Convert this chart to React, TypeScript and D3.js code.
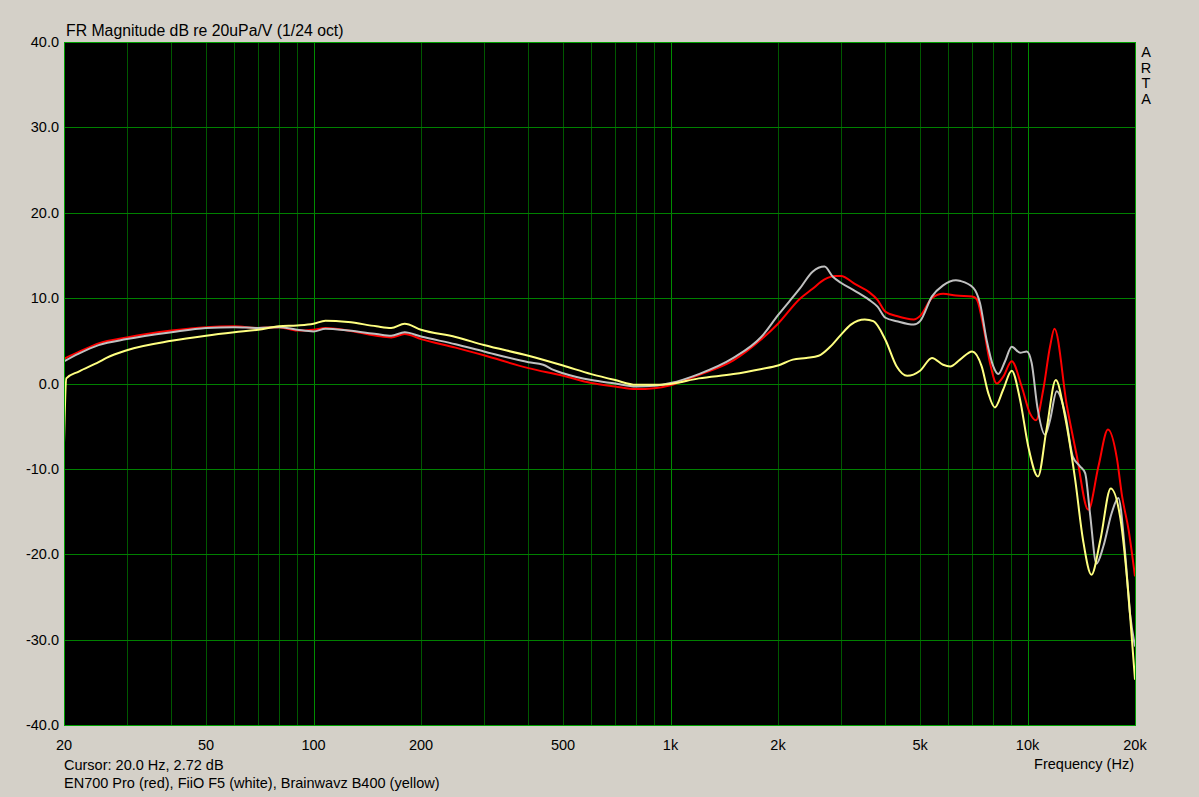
import React from "react";
import * as d3 from "d3";

const W = 1199;
const H = 797;

const yTicks = [40, 30, 20, 10, 0, -10, -20, -30, -40];
const xTickLabels: [number, string][] = [
  [20, "20"], [50, "50"], [100, "100"], [200, "200"], [500, "500"],
  [1000, "1k"], [2000, "2k"], [5000, "5k"], [10000, "10k"], [20000, "20k"],
];
const gridFreqs = [
  20, 30, 40, 50, 60, 70, 80, 90, 100, 200, 300, 400, 500, 600, 700, 800, 900,
  1000, 2000, 3000, 4000, 5000, 6000, 7000, 8000, 9000, 10000, 20000,
];
const majorFreqs = [100, 1000, 10000];

// EN700 Pro (red)
const redFreq = [20, 22, 25, 30, 40, 50, 60, 70, 80, 90, 100, 108, 125, 150, 165, 180, 200, 250, 300, 400, 500, 600, 700, 800, 900, 1000, 1200, 1500, 1800, 2000, 2300, 2500, 2700, 2900, 3000, 3300, 3600, 3800, 4000, 4300, 4800, 5000, 5400, 5800, 6300, 7000, 7200, 7520, 7850, 8200, 8550, 9030, 9630, 10160, 10560, 11070, 11560, 11900, 12900, 13700, 14800, 15800, 16800, 17800, 18400, 19200, 20000];
const redDb = [2.9, 3.7, 4.7, 5.4, 6.2, 6.6, 6.7, 6.5, 6.6, 6.2, 6.3, 6.5, 6.2, 5.6, 5.4, 5.8, 5.2, 4.2, 3.3, 1.8, 0.9, 0.05, -0.35, -0.65, -0.55, -0.2, 1.0, 2.7, 5.2, 7.0, 9.9, 11.1, 12.2, 12.6, 12.6, 11.6, 10.7, 9.8, 8.4, 7.9, 7.5, 7.9, 10.0, 10.5, 10.3, 10.2, 9.9, 6.7, 2.4, 0.0, 0.8, 2.6, -0.35, -3.5, -4.3, -0.7, 4.3, 6.4, -2.7, -8.2, -14.8, -9.7, -5.4, -8.8, -13.2, -17.2, -22.6];

// FiiO F5 (white)
const grayFreq = [20, 22, 25, 30, 40, 50, 60, 70, 80, 90, 100, 108, 125, 150, 165, 180, 200, 250, 300, 400, 440, 470, 500, 600, 700, 800, 900, 1000, 1200, 1500, 1800, 2000, 2300, 2500, 2700, 2850, 3000, 3300, 3600, 3800, 4000, 4300, 4800, 5000, 5400, 5800, 6300, 6500, 7050, 7360, 7680, 8020, 8280, 8650, 9030, 9530, 9950, 10270, 10650, 11200, 11560, 12070, 12740, 13400, 14030, 14500, 14960, 15600, 16300, 17200, 17960, 18750, 19360, 20000];
const grayDb = [2.6, 3.5, 4.5, 5.2, 6.0, 6.5, 6.6, 6.5, 6.6, 6.3, 6.1, 6.4, 6.2, 5.8, 5.6, 6.0, 5.5, 4.6, 3.75, 2.5, 2.2, 1.6, 1.2, 0.4, 0.0, -0.35, -0.27, 0.05, 1.1, 3.0, 5.5, 8.0, 11.1, 13.1, 13.7, 12.5, 11.8, 10.8, 9.8, 9.0, 7.7, 7.3, 6.9, 7.3, 10.2, 11.5, 12.1, 12.0, 11.2, 9.4, 5.1, 2.0, 1.1, 2.6, 4.3, 3.6, 3.75, 2.4, -2.7, -6.0, -4.3, -0.9, -3.5, -8.6, -9.7, -10.5, -15.2, -21.1, -19.1, -15.2, -13.4, -19.7, -26.9, -30.8];

// Brainwavz B400 (yellow)
const yellowFreq = [20, 20.3, 22, 25, 26.3, 30, 40, 50, 60, 70, 80, 90, 100, 108, 125, 150, 165, 180, 200, 250, 300, 400, 500, 600, 700, 800, 900, 1000, 1200, 1500, 1800, 2000, 2200, 2400, 2600, 2800, 3000, 3200, 3500, 3700, 4000, 4300, 4600, 5000, 5400, 5800, 6070, 6470, 7000, 7440, 7760, 8100, 8550, 9030, 9530, 10050, 10700, 11300, 12000, 12740, 13600, 14300, 15100, 16000, 17100, 18200, 19200, 20000];
const yellowDb = [-7.0, 0.6, 1.4, 2.5, 3.0, 3.9, 5.0, 5.6, 6.0, 6.3, 6.7, 6.8, 7.0, 7.35, 7.2, 6.7, 6.5, 7.0, 6.3, 5.45, 4.5, 3.25, 2.1, 1.1, 0.4, -0.15, -0.15, -0.05, 0.6, 1.1, 1.7, 2.1, 2.8, 3.0, 3.25, 4.3, 5.7, 6.9, 7.5, 7.3, 5.1, 2.0, 0.9, 1.5, 3.0, 2.2, 2.0, 2.8, 3.75, 2.0, -1.1, -2.8, -0.7, 1.5, -1.9, -7.4, -10.9, -5.4, 0.4, -3.9, -11.3, -18.3, -22.4, -18.3, -12.3, -15.8, -25.0, -34.7];

const series = [
  { name: "EN700 Pro", freq: redFreq, db: redDb, color: "#ff0000" },
  { name: "FiiO F5", freq: grayFreq, db: grayDb, color: "#c0c0c0" },
  { name: "Brainwavz B400", freq: yellowFreq, db: yellowDb, color: "#ffff80" },
];

const FONT = "'Liberation Sans', Arial, sans-serif";
const FS = 14.5;

export default function App() {
  const left = 64, right = 1135, top = 42, bottom = 725;
  const x = d3.scaleLog().domain([20, 20000]).range([left, right]);
  const y = d3.scaleLinear().domain([-40, 40]).range([bottom, top]);
  const px = (v: number) => Math.round(v) + 0.5;

  const line = d3
    .line<[number, number]>()
    .x((d) => x(d[0]))
    .y((d) => y(d[1]))
    .curve(d3.curveMonotoneX);

  return (
    <svg
      width={W}
      height={H}
      style={{ position: "absolute", left: 0, top: 0, display: "block" }}
      fontFamily={FONT}
    >
      <rect x={0} y={0} width={W} height={H} fill="#d4d0c8" />
      <rect x={left} y={top} width={right - left} height={bottom - top} fill="#000" />
      <defs>
        <clipPath id="plotClip">
          <rect x={left} y={top} width={right - left + 1} height={bottom - top + 1} />
        </clipPath>
      </defs>
      {gridFreqs.map((f) => (
        <line
          key={"v" + f}
          x1={px(x(f))}
          x2={px(x(f))}
          y1={top}
          y2={bottom}
          stroke={majorFreqs.includes(f) ? "#008c00" : "#005800"}
          strokeWidth={1}
        />
      ))}
      {yTicks.map((t) => (
        <line
          key={"h" + t}
          x1={left}
          x2={right}
          y1={px(y(t))}
          y2={px(y(t))}
          stroke="#008000"
          strokeWidth={1}
        />
      ))}
      <g clipPath="url(#plotClip)">
        {series.map((s) => (
          <path
            key={s.name}
            d={line(s.freq.map((f, i) => [f, s.db[i]] as [number, number])) || ""}
            fill="none"
            stroke={s.color}
            strokeWidth={2}
            strokeLinejoin="round"
          />
        ))}
      </g>
      <rect
        x={px(left)}
        y={px(top)}
        width={Math.round(right) - Math.round(left)}
        height={Math.round(bottom) - Math.round(top)}
        fill="none"
        stroke="#00a000"
        strokeWidth={1}
      />
      {yTicks.map((t) => (
        <text key={"yl" + t} x={59} y={y(t) + 5} fontSize={FS} textAnchor="end" fill="#000">
          {t.toFixed(1)}
        </text>
      ))}
      {xTickLabels.map(([f, label]) => (
        <text key={"xl" + f} x={x(f)} y={750} fontSize={FS} textAnchor="middle" fill="#000">
          {label}
        </text>
      ))}
      <text x={66} y={36} fontSize={15.8} fill="#000">
        FR Magnitude dB re 20uPa/V (1/24 oct)
      </text>
      <text x={64} y={770} fontSize={FS} fill="#000">
        Cursor: 20.0 Hz, 2.72 dB
      </text>
      <text x={64} y={788} fontSize={FS} fill="#000">
        EN700 Pro (red), FiiO F5 (white), Brainwavz B400 (yellow)
      </text>
      <text x={1134} y={769} fontSize={FS} textAnchor="end" fill="#000">
        Frequency (Hz)
      </text>
      {["A", "R", "T", "A"].map((c, i) => (
        <text key={"arta" + i} x={1146} y={57 + i * 15.7} fontSize={FS} textAnchor="middle" fill="#000">
          {c}
        </text>
      ))}
    </svg>
  );
}
